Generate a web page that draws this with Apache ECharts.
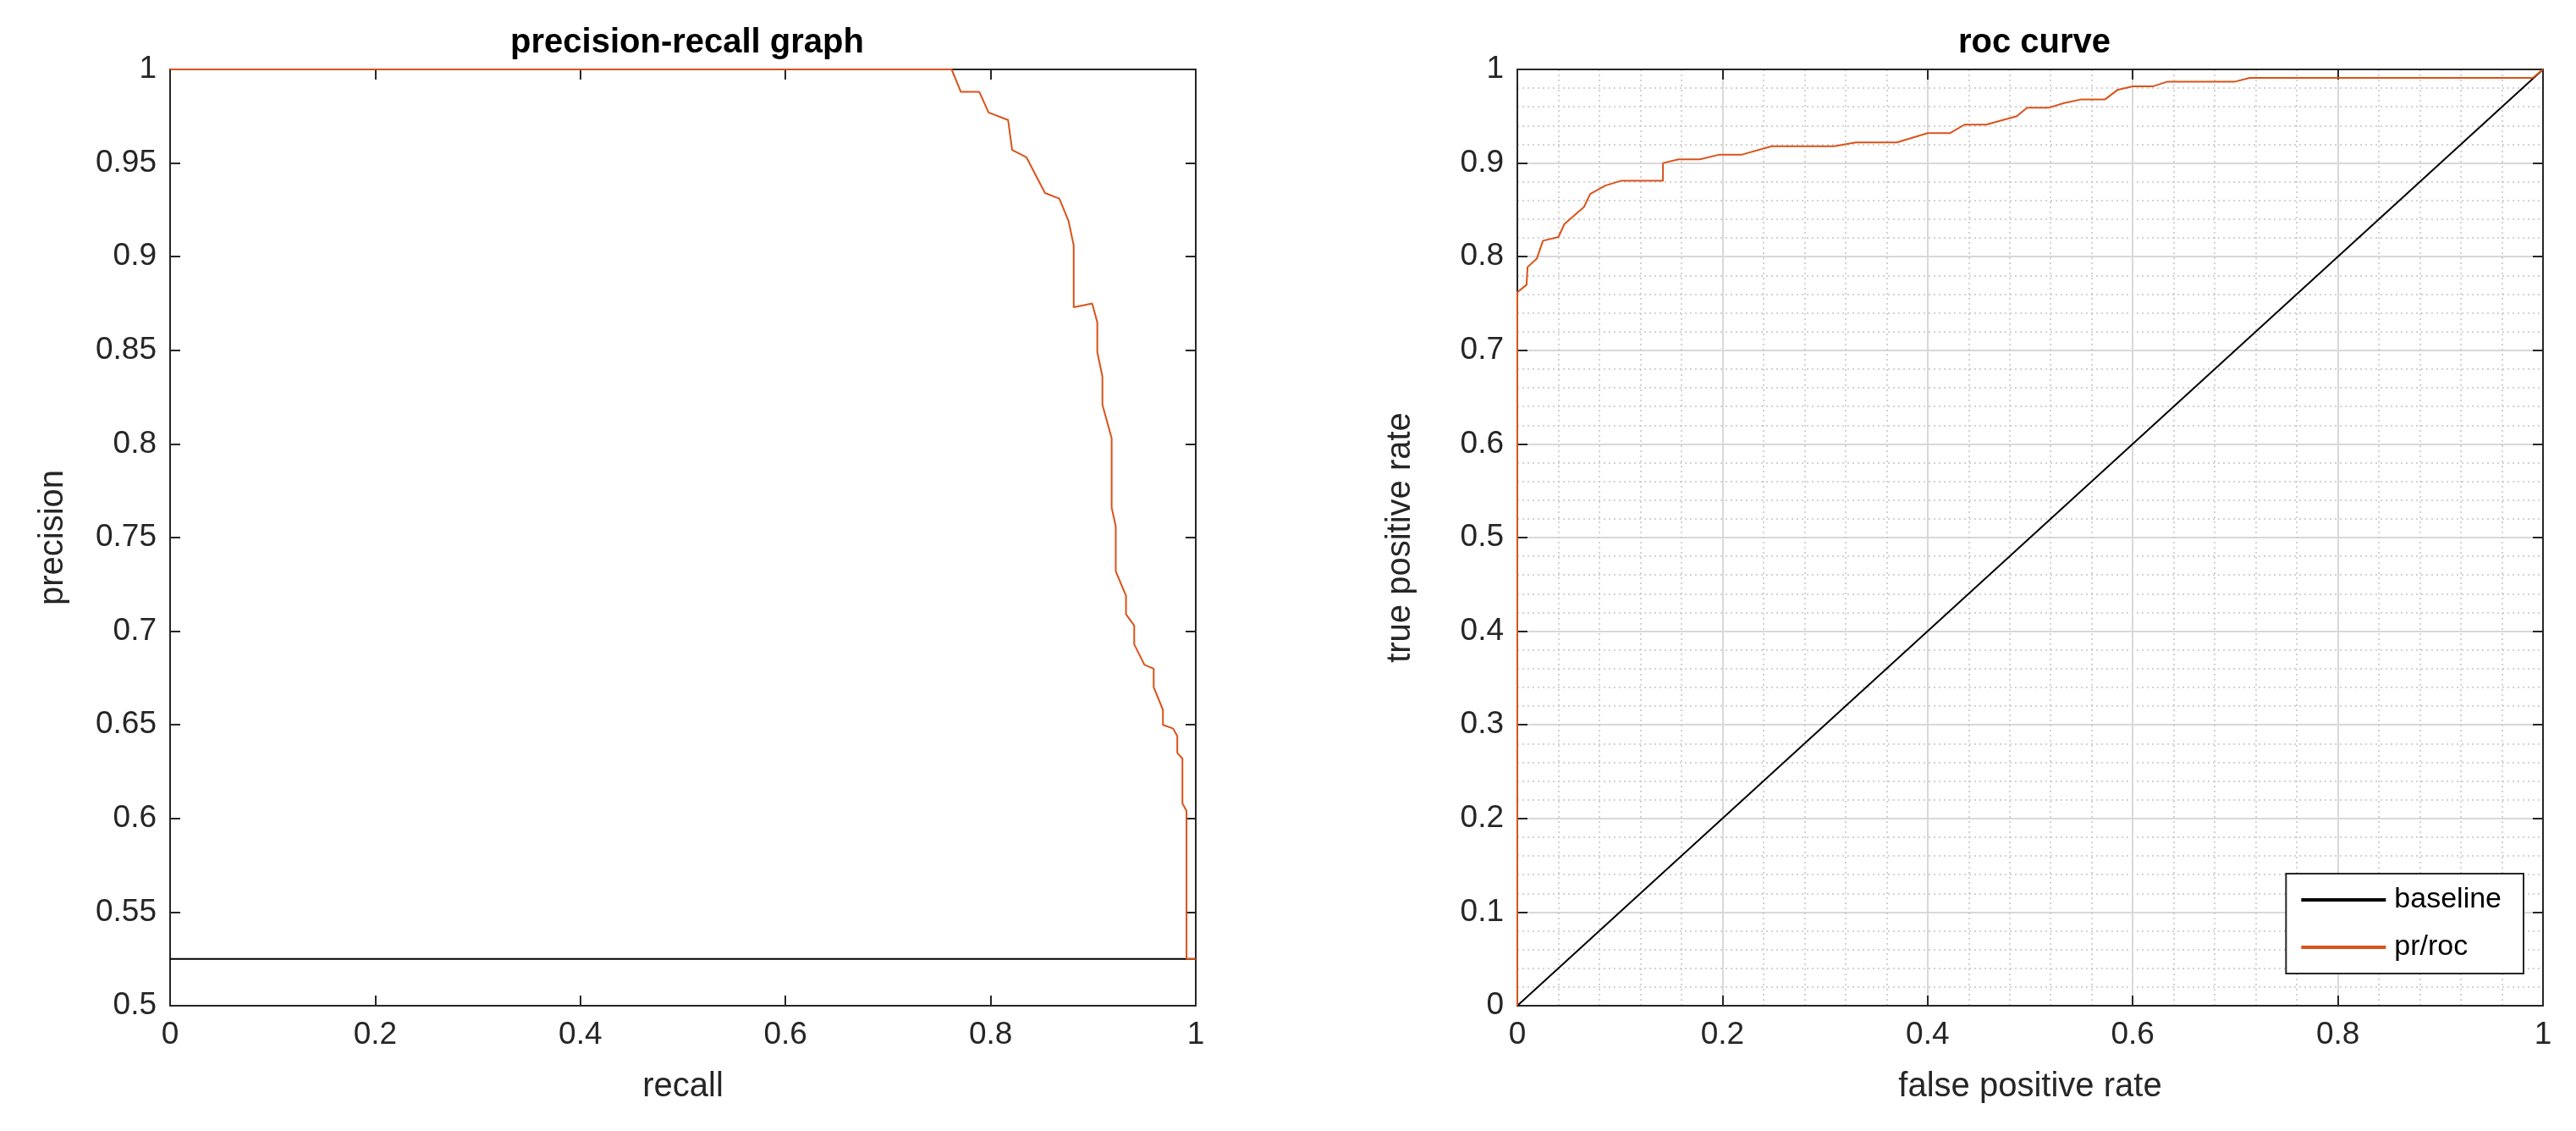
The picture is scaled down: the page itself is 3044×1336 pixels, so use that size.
<!DOCTYPE html>
<html><head><meta charset="utf-8">
<script src="https://cdn.jsdelivr.net/npm/echarts@6/dist/echarts.min.js"></script>
<style>html,body{margin:0;background:#fff}#c{width:3044px;height:1336px}</style>
</head><body><div id="c"></div>
<script>
const prCurve = [[0,1],[0.762,1],[0.771,0.988],[0.789,0.988],[0.798,0.977],[0.817,0.973],[0.821,0.957],[0.835,0.953],[0.853,0.934],[0.867,0.931],[0.876,0.919],[0.881,0.906],[0.881,0.873],[0.899,0.875],[0.904,0.865],[0.904,0.849],[0.909,0.836],[0.909,0.821],[0.918,0.803],[0.918,0.766],[0.922,0.756],[0.922,0.732],[0.932,0.719],[0.932,0.709],[0.940,0.703],[0.940,0.693],[0.950,0.682],[0.959,0.680],[0.959,0.670],[0.968,0.658],[0.968,0.650],[0.978,0.648],[0.982,0.644],[0.982,0.635],[0.987,0.632],[0.987,0.608],[0.991,0.604],[0.991,0.525],[1,0.525]];
const prBaseline = [[0,0.525],[1,0.525]];
const rocCurve = [[0,0],[0,0.762],[0.009,0.770],[0.01,0.789],[0.019,0.798],[0.025,0.817],[0.040,0.821],[0.046,0.835],[0.065,0.853],[0.071,0.867],[0.086,0.876],[0.101,0.881],[0.142,0.881],[0.142,0.900],[0.157,0.904],[0.178,0.904],[0.197,0.909],[0.219,0.909],[0.248,0.918],[0.309,0.918],[0.330,0.922],[0.370,0.922],[0.400,0.932],[0.422,0.932],[0.436,0.941],[0.457,0.941],[0.487,0.950],[0.497,0.959],[0.518,0.959],[0.533,0.964],[0.550,0.968],[0.573,0.968],[0.585,0.978],[0.600,0.982],[0.620,0.982],[0.634,0.987],[0.700,0.987],[0.714,0.991],[0.990,0.991],[1,1]];
const rocBaseline = [[0,0],[1,1]];
const titles = ['precision-recall graph','roc curve'];
const ORANGE = '#D95319', AX = '#262626';
const font = 'Liberation Sans, Arial, sans-serif';
const lbl = {color:AX, fontSize:37, fontFamily:font, margin:16};
function mainAxis(gi, name, min, max, interval, isY, grid) {
  return {
    type:'value', gridIndex:gi, min, max, interval, name, nameLocation:'middle',
    nameGap: isY ? 118 : 76, nameTextStyle:{color:AX,fontSize:40,fontFamily:font},
    axisLine:{show:true,onZero:false,lineStyle:{color:AX,width:2}},
    axisTick:{show:true,inside:true,length:12,lineStyle:{color:AX,width:2}},
    axisLabel:Object.assign({formatter:v=>String(+v.toFixed(2))}, lbl),
    splitLine:{show:grid,lineStyle:{color:'#d8d8d8',width:2}},
    minorTick:{show:grid,splitNumber:5,length:0},
    minorSplitLine:{show:grid,lineStyle:{color:'#c4c4c4',type:[2,4],width:1.5}}
  };
}
function boxAxis(gi, min, max, interval, pos) {
  return {type:'value', gridIndex:gi, min, max, interval, position:pos,
    axisLine:{show:true,onZero:false,lineStyle:{color:AX,width:2}},
    axisTick:{show:true,inside:true,length:12,lineStyle:{color:AX,width:2}},
    axisLabel:{show:false}, splitLine:{show:false}};
}
const lineIcon = 'path://M0,0H10V0.4H0Z';
const option = {
  animation:false, backgroundColor:'#fff',
  title:[
    {text:titles[0],left:807,top:26,textAlign:'center',textStyle:{fontSize:40,fontWeight:'bold',color:'#000',fontFamily:font}},
    {text:titles[1],left:2399,top:26,textAlign:'center',textStyle:{fontSize:40,fontWeight:'bold',color:'#000',fontFamily:font}}
  ],
  grid:[
    {left:201,right:1631,top:82,bottom:148},
    {left:1793,right:39,top:82,bottom:148}
  ],
  legend:{data:[{name:'baseline',icon:lineIcon},{name:'pr/roc',icon:lineIcon}],orient:'vertical',right:62,bottom:186,itemWidth:110,itemHeight:4,itemGap:22,
    backgroundColor:'#fff',borderColor:AX,borderWidth:2,padding:[14,26,14,18],
    textStyle:{fontSize:34,color:'#000',fontFamily:font}},
  xAxis:[
    mainAxis(0,'recall',0,1,0.2,false,false),
    mainAxis(1,'false positive rate',0,1,0.2,false,true),
    boxAxis(0,0,1,0.2,'top'), boxAxis(1,0,1,0.2,'top')
  ],
  yAxis:[
    mainAxis(0,'precision',0.5,1,0.05,true,false),
    mainAxis(1,'true positive rate',0,1,0.1,true,true),
    boxAxis(0,0.5,1,0.05,'right'), boxAxis(1,0,1,0.1,'right')
  ],
  series:[
    {name:'baseline',type:'line',xAxisIndex:0,yAxisIndex:0,data:prBaseline,symbol:'none',lineStyle:{color:'#000',width:2},itemStyle:{color:'#000'}},
    {name:'pr/roc',type:'line',xAxisIndex:0,yAxisIndex:0,data:prCurve,symbol:'none',lineStyle:{color:ORANGE,width:2},itemStyle:{color:ORANGE}},
    {name:'baseline',type:'line',xAxisIndex:1,yAxisIndex:1,data:rocBaseline,symbol:'none',lineStyle:{color:'#000',width:2},itemStyle:{color:'#000'}},
    {name:'pr/roc',type:'line',xAxisIndex:1,yAxisIndex:1,data:rocCurve,symbol:'none',lineStyle:{color:ORANGE,width:2},itemStyle:{color:ORANGE}}
  ]
};
echarts.init(document.getElementById('c')).setOption(option);
</script></body></html>
